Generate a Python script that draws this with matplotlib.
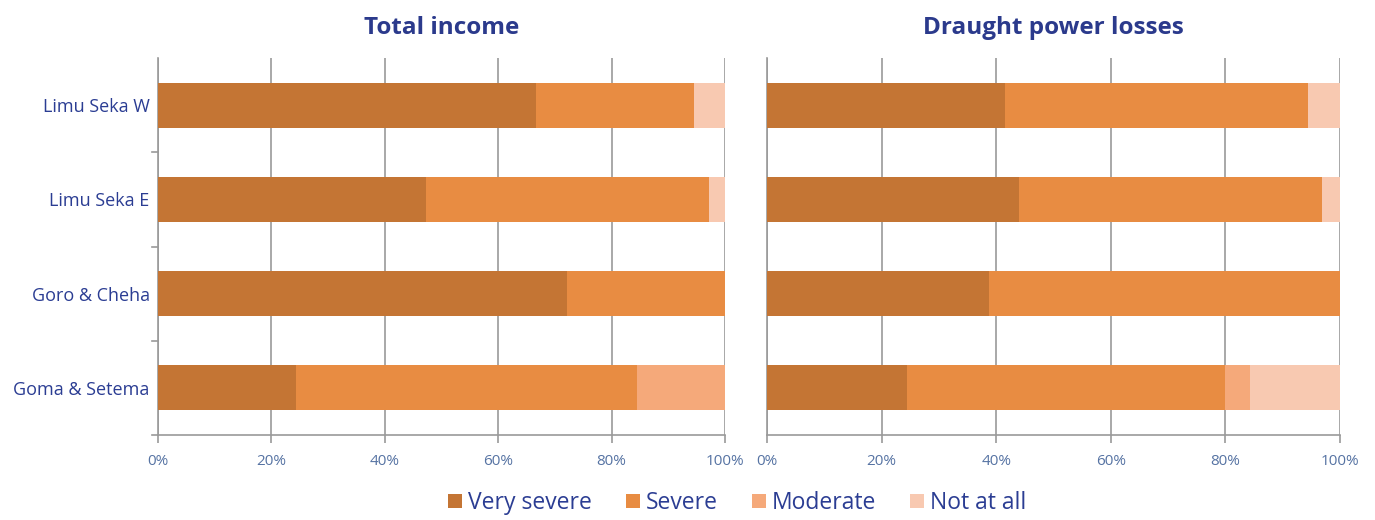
import matplotlib
matplotlib.use("Agg")
import matplotlib.pyplot as plt
from matplotlib.patches import Patch
from matplotlib.ticker import FuncFormatter

plt.rcParams['font.family'] = ['Open Sans', 'DejaVu Sans']

# Survey regions (top to bottom) and response categories
regions = ["Limu Seka W", "Limu Seka E", "Goro & Cheha", "Goma & Setema"]
levels = ["Very severe", "Severe", "Moderate", "Not at all"]

# Share of respondents (%) per region, one list per response level
income_very_severe = [66.7, 47.2, 72.2, 24.4]
income_severe = [27.8, 50.0, 27.8, 60.0]
income_moderate = [0.0, 0.0, 0.0, 15.6]
income_not_at_all = [5.5, 2.8, 0.0, 0.0]

draught_very_severe = [41.6, 44.0, 38.8, 24.4]
draught_severe = [52.8, 52.9, 61.2, 55.5]
draught_moderate = [0.0, 0.0, 0.0, 4.4]
draught_not_at_all = [5.6, 3.1, 0.0, 15.7]

colors = ["#C47534", "#E88C42", "#F5A97A", "#F8C9B1"]
title_color = "#2B3A8C"
label_color = "#2B3D93"
tick_color = "#5673A3"
grid_color = "#9A9A9A"

fig = plt.figure(figsize=(13.75, 5.2), dpi=100)
ax1 = fig.add_axes([158 / 1375, 1 - 435 / 520, 567 / 1375, 377 / 520])
ax2 = fig.add_axes([767 / 1375, 1 - 435 / 520, 573 / 1375, 377 / 520])

panels = [
    (ax1, "Total income",
     [income_very_severe, income_severe, income_moderate, income_not_at_all]),
    (ax2, "Draught power losses",
     [draught_very_severe, draught_severe, draught_moderate, draught_not_at_all]),
]

ypos = list(range(len(regions)))[::-1]

for ax, title, series in panels:
    left = [0.0] * len(regions)
    for vals, col in zip(series, colors):
        ax.barh(ypos, vals, left=left, height=0.48, color=col, edgecolor='none', zorder=3)
        left = [l + v for l, v in zip(left, vals)]
    ax.set_xlim(0, 100)
    ax.set_ylim(-0.5, len(regions) - 0.5)
    ax.set_xticks([0, 20, 40, 60, 80, 100])
    ax.xaxis.set_major_formatter(FuncFormatter(lambda v, p: f"{v:.0f}%"))
    ax.grid(axis='x', color=grid_color, linewidth=1.2, zorder=0)
    for s in ["top", "right"]:
        ax.spines[s].set_visible(False)
    ax.spines["left"].set_color(grid_color)
    ax.spines["left"].set_linewidth(1.2)
    ax.spines["bottom"].set_color(grid_color)
    ax.spines["bottom"].set_linewidth(1.2)
    ax.tick_params(axis='x', colors=grid_color, length=6, width=1.2, labelcolor=tick_color,
                   labelsize=11, pad=8)
    ax.set_title(title, fontsize=17.5, fontweight='bold', color=title_color, pad=17)

# category labels and separators on the left panel only
ax1.set_yticks(ypos)
ax1.set_yticklabels(regions, color=label_color, fontsize=13)
ax1.tick_params(axis='y', length=0, pad=6)
for b in [0.5, 1.5, 2.5, -0.5]:
    ax1.plot([-0.011, 0], [b, b], transform=ax1.get_yaxis_transform(),
             color=grid_color, lw=1.2, clip_on=False, zorder=4)
ax2.set_yticks([])

handles = [Patch(facecolor=c, edgecolor='none') for c in colors]
fig.legend(handles, levels, loc='lower center', bbox_to_anchor=(0.536, -0.03), ncol=4,
           frameon=False, fontsize=16.5, handlelength=0.6, handleheight=0.6,
           handletextpad=0.25, columnspacing=1.5, labelcolor=label_color)

fig.savefig("out.png", dpi=100)
